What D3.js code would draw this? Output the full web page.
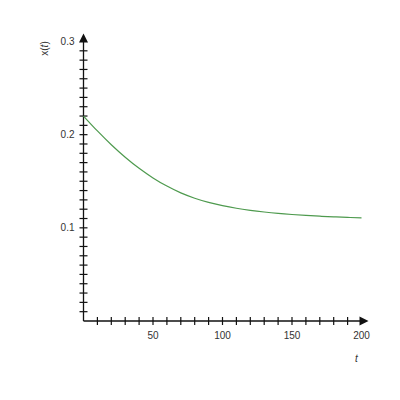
<!DOCTYPE html>
<html><head><meta charset="utf-8">
<script src="https://cdn.jsdelivr.net/npm/d3@7"></script>
<style>body{margin:0;background:#fff}svg{display:block}</style>
</head><body>
<svg id="c" width="400" height="400"></svg>
<script>
const tValues = [0,10,20,30,40,50,60,70,80,90,100,110,120,130,140,150,160,170,180,190,200];
const xValues = [0.220,0.204,0.1892,0.1758,0.1639,0.1536,0.1448,0.1375,0.1318,0.1273,0.1238,0.1210,0.1188,0.1170,0.1155,0.1143,0.1133,0.1125,0.1118,0.1112,0.1107];
const xTickLabels = [50,100,150,200];
const yTickLabels = [0.1,0.2,0.3];
const xMinorTicks = d3.range(10,201,10);
const yMinorTicks = d3.range(1,31).map(d=>d/100);

const svg = d3.select("#c");
const x = d3.scaleLinear().domain([0,200]).range([83.5,361.5]);
const y = d3.scaleLinear().domain([0,0.3]).range([321,41.5]);
const font = "Liberation Sans, Arial, sans-serif";

// minor ticks (crosses)
svg.append("g").selectAll("line").data(xMinorTicks.filter(d=>d<200)).join("line")
  .attr("x1",d=>x(d)).attr("x2",d=>x(d)).attr("y1",y(0)-4).attr("y2",y(0)+4)
  .attr("stroke","#111").attr("stroke-width",1.2);
svg.append("g").selectAll("line").data(yMinorTicks.filter(d=>d<0.3)).join("line")
  .attr("y1",d=>y(d)).attr("y2",d=>y(d)).attr("x1",x(0)-4).attr("x2",x(0)+4)
  .attr("stroke","#111").attr("stroke-width",1.2);

// axes lines
svg.append("line").attr("x1",x(0)).attr("x2",x(200)).attr("y1",y(0)).attr("y2",y(0))
  .attr("stroke","#111").attr("stroke-width",1.3);
svg.append("line").attr("x1",x(0)).attr("x2",x(0)).attr("y1",y(0)).attr("y2",y(0.3))
  .attr("stroke","#111").attr("stroke-width",1.3);
// arrows
svg.append("path").attr("d",`M${x(200)-2},${y(0)-4.5}L${x(200)+7},${y(0)}L${x(200)-2},${y(0)+4.5}Z`).attr("fill","#111");
svg.append("path").attr("d",`M${x(0)-4.5},${y(0.3)+1}L${x(0)},${y(0.3)-8}L${x(0)+4.5},${y(0.3)+1}Z`).attr("fill","#111");

// tick labels
svg.append("g").selectAll("text").data(xTickLabels).join("text")
  .attr("x",d=>x(d)).attr("y",y(0)+18).attr("text-anchor","middle")
  .attr("font-family",font).attr("font-size",10).attr("fill","#333").text(d=>d);
svg.append("g").selectAll("text").data(yTickLabels).join("text")
  .attr("x",x(0)-9).attr("y",d=>y(d)+3.5).attr("text-anchor","end")
  .attr("font-family",font).attr("font-size",10).attr("fill","#333").text(d=>d);

// axis titles
svg.append("text").attr("x",x(200)-5).attr("y",y(0)+41).attr("text-anchor","middle")
  .attr("font-family",font).attr("font-size",10).attr("font-style","italic").attr("fill","#333").text("t");
svg.append("text").attr("transform",`translate(48,${y(0.3)+7}) rotate(-90)`).attr("text-anchor","middle")
  .attr("font-family",font).attr("font-size",10).attr("fill","#333")
  .html('x(<tspan font-style="italic">t</tspan>)');

// curve
const data = tValues.map((t,i)=>({t, v:xValues[i]}));
svg.append("path").datum(data)
  .attr("d", d3.line().x(d=>x(d.t)).y(d=>y(d.v)).curve(d3.curveMonotoneX))
  .attr("fill","none").attr("stroke","#4e9a4e").attr("stroke-width",1.2);
</script>
</body></html>
